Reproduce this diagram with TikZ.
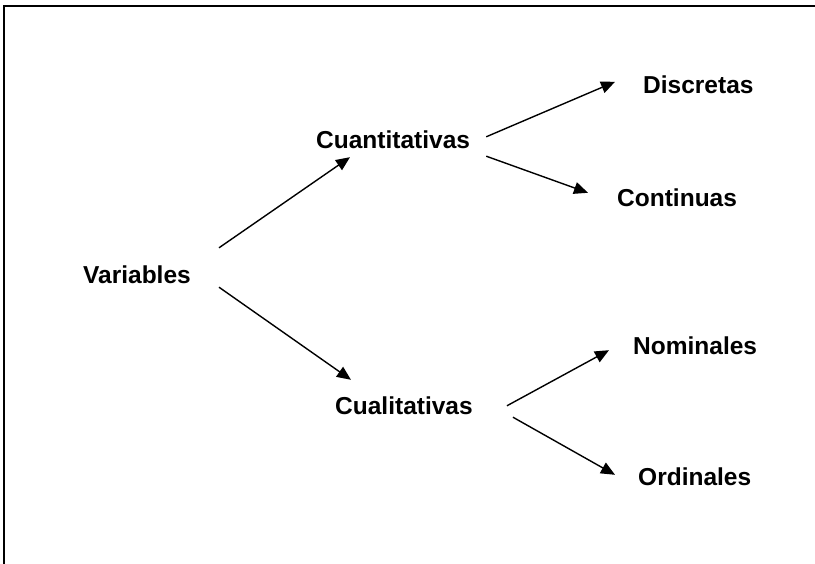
\documentclass[tikz,border=0pt]{standalone}
\usepackage{fontspec}
\setmainfont{Liberation Sans}
\usetikzlibrary{arrows.meta}
\begin{document}
\begin{tikzpicture}[x=1pt, y=-1pt,
        lbl/.style={font=\fontsize{24.5}{28}\selectfont\bfseries, inner sep=0pt,
            text height=18pt, text depth=5pt, anchor=base west},
        arr/.style={line width=1.4pt, -{Triangle[length=14pt, width=12pt]}}]
        \useasboundingbox (0,0) rectangle (815,564);

        % Frame
        \draw[line width=1.5pt] (4,570) -- (4,6) -- (820,6);

        % Labels
        \node[lbl] (var) at (83,284) {Variables};
        \node[lbl] (cuan) at (316,149) {Cuantitativas};
        \node[lbl] (cual) at (335,415) {Cualitativas};
        \node[lbl] (disc) at (643,94) {Discretas};
        \node[lbl] (cont) at (617,207) {Continuas};
        \node[lbl] (nom) at (633,355) {Nominales};
        \node[lbl] (ord) at (638,485) {Ordinales};

        % Arrows
        \draw[arr] ([shift={(28,-18)}]var.north east) -- ([shift={(34,3)}]cuan.south west);
        \draw[arr] ([shift={(28,-2)}]var.south east) -- ([shift={(16,-17)}]cual.north west);
        \draw[arr] ([shift={(16,6)}]cuan.north east) -- ([shift={(-28,6)}]disc.north west);
        \draw[arr] ([shift={(16,2)}]cuan.south east) -- ([shift={(-29,4)}]cont.north west);
        \draw[arr] ([shift={(34,9)}]cual.north east) -- ([shift={(-24,-10)}]nom.south west);
        \draw[arr] ([shift={(40,-3)}]cual.south east) -- ([shift={(-23,8)}]ord.north west);
    \end{tikzpicture}
\end{document}
